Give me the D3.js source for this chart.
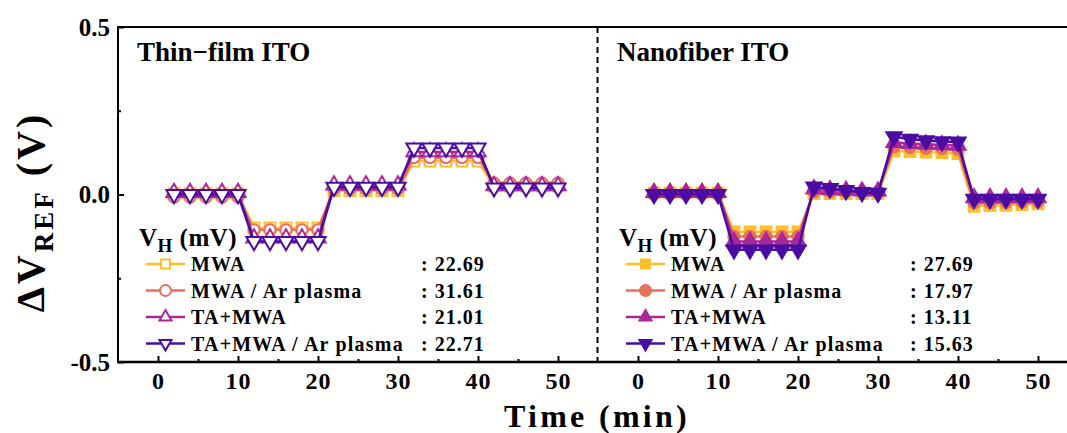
<!DOCTYPE html>
<html>
<head>
<meta charset="utf-8">
<script src="https://cdn.jsdelivr.net/npm/d3@7/dist/d3.min.js"></script>
<style>
  body { margin: 0; background: #fff; }
  svg { display: block; }
  text { font-family: "Liberation Serif", "Times New Roman", serif; font-weight: bold; fill: #000; }
</style>
</head>
<body>
<div id="page"></div>
<script>
(function() {

  "use strict";

  // time (min) of every point, both panels
  var times = [2, 4, 6, 8, 10, 12, 14, 16, 18, 20, 22, 24, 26, 28, 30, 32, 34, 36, 38, 40, 42, 44, 46, 48, 50];

  var seriesNames = [ "MWA", "MWA / Ar plasma", "TA+MWA", "TA+MWA / Ar plasma" ];

  // Thin-film ITO, dV_REF (V)
  var thinMWA   = [0.002, 0.002, 0.002, 0.002, 0.002, -0.100, -0.100, -0.100, -0.100, -0.100, 0.012, 0.012, 0.012, 0.012, 0.012, 0.100, 0.100, 0.100, 0.100, 0.100, 0.025, 0.025, 0.025, 0.025, 0.025];
  var thinMWAAr = [-0.008, -0.008, -0.008, -0.008, -0.008, -0.105, -0.105, -0.105, -0.105, -0.105, 0.016, 0.016, 0.016, 0.016, 0.016, 0.110, 0.110, 0.110, 0.110, 0.110, 0.035, 0.035, 0.035, 0.035, 0.035];
  var thinTA    = [0.006, 0.006, 0.006, 0.006, 0.006, -0.130, -0.130, -0.130, -0.130, -0.130, 0.028, 0.028, 0.028, 0.028, 0.028, 0.127, 0.127, 0.127, 0.127, 0.127, 0.026, 0.026, 0.026, 0.026, 0.026];
  var thinTAAr  = [0.000, 0.000, 0.000, 0.000, 0.000, -0.140, -0.140, -0.140, -0.140, -0.140, 0.022, 0.022, 0.022, 0.022, 0.022, 0.139, 0.139, 0.139, 0.139, 0.139, 0.020, 0.020, 0.020, 0.020, 0.020];

  // Nanofiber ITO, dV_REF (V)
  var nanoMWA   = [0.005, 0.005, 0.005, 0.005, 0.005, -0.112, -0.112, -0.112, -0.112, -0.112, 0.003, 0.003, 0.003, 0.003, 0.003, 0.130, 0.128, 0.127, 0.125, 0.122, -0.035, -0.033, -0.032, -0.030, -0.028];
  var nanoMWAAr = [0.001, 0.001, 0.001, 0.001, 0.001, -0.125, -0.125, -0.125, -0.125, -0.125, 0.008, 0.008, 0.008, 0.008, 0.008, 0.142, 0.140, 0.138, 0.137, 0.135, -0.025, -0.025, -0.024, -0.023, -0.022];
  var nanoTA    = [0.006, 0.006, 0.006, 0.006, 0.006, -0.140, -0.140, -0.140, -0.140, -0.140, 0.016, 0.014, 0.012, 0.010, 0.010, 0.155, 0.152, 0.150, 0.148, 0.147, -0.010, -0.010, -0.010, -0.010, -0.010];
  var nanoTAAr  = [0.000, 0.000, 0.000, 0.000, 0.000, -0.165, -0.165, -0.165, -0.165, -0.165, 0.023, 0.018, 0.012, 0.006, 0.004, 0.173, 0.165, 0.161, 0.158, 0.157, -0.014, -0.014, -0.014, -0.014, -0.014];

  // V_H (mV) shown in the legends
  var thinVH = [ "22.69", "31.61", "21.01", "22.71" ];
  var nanoVH = [ "27.69", "17.97", "13.11", "15.63" ];

  var xTicks = [0, 10, 20, 30, 40, 50],
    xMinor = [5, 15, 25, 35, 45],
    yTicks = [-0.5, 0.0, 0.5],
    yMinor = [-0.25, 0.25];

  /* * * * * * * * * * * * * * * * * * * */

  var colors = [ "#fcbf2a", "#e8705c", "#a8289a", "#4b0ca2" ],
    shapes = [ d3.symbolSquare, d3.symbolCircle, d3.symbolTriangle, d3.symbolTriangle ],
    rotate = [ 0, 0, 0, 180 ],
    plotSize = [ 118, 96, 100, 100 ],
    legendSize = [ 78, 96, 62, 62 ];

  var W = 1067, H = 433,
    top = 27, bottom = 362, left = 118, mid = 598;

  var panels = [
    { title: "Thin\u2212film ITO", x0: left, series: [ thinMWA, thinMWAAr, thinTA, thinTAAr ], vh: thinVH, filled: false, colonX: 421 },
    { title: "Nanofiber ITO", x0: mid, series: [ nanoMWA, nanoMWAAr, nanoTA, nanoTAAr ], vh: nanoVH, filled: true, colonX: 910 }
  ];

  var svg = d3.select( "#page" ).append( "svg" )
    .attr( "width", W )
    .attr( "height", H );

  var y = d3.scaleLinear().domain( [ -0.5, 0.5 ] ).range( [ bottom, top ] );

  /* * * * * * * * * * * * * * * * * * * */

  panels.forEach( function( p ) {

    var x = d3.scaleLinear().domain( [ -5, 55 ] ).range( [ p.x0, p.x0 + 480 ] );
    var g = svg.append( "g" );

    // x ticks (inward)
    g.append( "g" )
      .attr( "transform", "translate(0," + bottom + ")" )
      .call( d3.axisBottom( x ).tickValues( xTicks ).tickSize( -6 ).tickPadding( 10 ) )
      .call( function( a ) { a.select( ".domain" ).remove(); } )
      .call( function( a ) {
        a.selectAll( "line" ).attr( "stroke-width", 2 );
        a.selectAll( "text" ).attr( "font-size", 24 ).attr( "font-family", null ).attr( "letter-spacing", 1 );
      } );

    g.append( "g" )
      .attr( "transform", "translate(0," + bottom + ")" )
      .call( d3.axisBottom( x ).tickValues( xMinor ).tickSize( -3 ).tickFormat( "" ) )
      .call( function( a ) { a.select( ".domain" ).remove(); } )
      .selectAll( "line" ).attr( "stroke-width", 2 );

    // lines and markers
    var line = d3.line()
      .x( function( d, i ) { return x( times[ i ] ); } )
      .y( function( d ) { return y( d ); } );

    p.series.forEach( function( s, k ) {

      g.append( "path" )
        .datum( s )
        .attr( "d", line )
        .attr( "fill", "none" )
        .attr( "stroke", colors[ k ] )
        .attr( "stroke-width", 2.5 );

      g.selectAll( null )
        .data( s )
        .enter().append( "path" )
        .attr( "transform", function( d, i ) {
          return "translate(" + x( times[ i ] ) + "," + y( d ) + ") rotate(" + rotate[ k ] + ")";
        } )
        .attr( "d", d3.symbol().type( shapes[ k ] ).size( plotSize[ k ] ) )
        .attr( "fill", p.filled ? colors[ k ] : "#fff" )
        .attr( "stroke", colors[ k ] )
        .attr( "stroke-width", 2 );

    } );

    // title
    g.append( "text" )
      .attr( "x", p.x0 + 19 )
      .attr( "y", 61 )
      .attr( "font-size", 27 )
      .text( p.title );

    // legend
    var head = g.append( "text" )
      .attr( "x", p.x0 + 21 )
      .attr( "y", 246 )
      .attr( "font-size", 25 )
      .attr( "letter-spacing", 0.5 );
    head.append( "tspan" ).text( "V" );
    head.append( "tspan" ).attr( "font-size", 19 ).attr( "dy", 6 ).text( "H" );
    head.append( "tspan" ).attr( "dy", -6 ).text( " (mV)" );

    seriesNames.forEach( function( name, k ) {

      var cy = 264 + k * 26.5,
        lx = p.x0 + 28;

      g.append( "line" )
        .attr( "x1", lx ).attr( "x2", lx + 39 )
        .attr( "y1", cy ).attr( "y2", cy )
        .attr( "stroke", colors[ k ] )
        .attr( "stroke-width", 2.5 );

      g.append( "path" )
        .attr( "transform", "translate(" + ( lx + 19.5 ) + "," + cy + ") rotate(" + rotate[ k ] + ")" )
        .attr( "d", d3.symbol().type( shapes[ k ] ).size( legendSize[ k ] ) )
        .attr( "fill", p.filled ? colors[ k ] : "#fff" )
        .attr( "stroke", colors[ k ] )
        .attr( "stroke-width", 2 );

      g.append( "text" )
        .attr( "x", lx + 45 )
        .attr( "y", cy + 7 )
        .attr( "font-size", 20 )
        .attr( "letter-spacing", 1.2 )
        .text( name );

      g.append( "text" )
        .attr( "x", p.colonX )
        .attr( "y", cy + 7 )
        .attr( "font-size", 20 )
        .attr( "letter-spacing", 1 )
        .text( ":  " + p.vh[ k ] );

    } );

  } );

  /* * * * * * * * * * * * * * * * * * * */

  // y axis
  svg.append( "g" )
    .attr( "transform", "translate(" + left + ",0)" )
    .call( d3.axisLeft( y ).tickValues( yTicks ).tickSize( -6 ).tickPadding( 8 )
      .tickFormat( function( d ) { return d.toFixed( 1 ); } ) )
    .call( function( a ) { a.select( ".domain" ).remove(); } )
    .call( function( a ) {
      a.selectAll( "line" ).attr( "stroke-width", 2 );
      a.selectAll( "text" ).attr( "font-size", 25 ).attr( "font-family", null );
    } );

  svg.append( "g" )
    .attr( "transform", "translate(" + left + ",0)" )
    .call( d3.axisLeft( y ).tickValues( yMinor ).tickSize( -3 ).tickFormat( "" ) )
    .call( function( a ) { a.select( ".domain" ).remove(); } )
    .selectAll( "line" ).attr( "stroke-width", 2 );

  // frame
  var frame = svg.append( "g" ).attr( "stroke", "#000" ).attr( "stroke-width", 2 );
  frame.append( "line" ).attr( "x1", left ).attr( "x2", W ).attr( "y1", top ).attr( "y2", top );
  frame.append( "line" ).attr( "x1", left ).attr( "x2", W ).attr( "y1", bottom ).attr( "y2", bottom ).attr( "stroke-width", 2.5 );
  frame.append( "line" ).attr( "x1", left ).attr( "x2", left ).attr( "y1", top - 1 ).attr( "y2", bottom + 1 );
  frame.append( "line" ).attr( "x1", mid - 0.5 ).attr( "x2", mid - 0.5 ).attr( "y1", top ).attr( "y2", bottom )
    .attr( "stroke-dasharray", "6,4" );

  // axis titles
  svg.append( "text" )
    .attr( "x", 597 )
    .attr( "y", 427 )
    .attr( "text-anchor", "middle" )
    .attr( "font-size", 32 )
    .attr( "letter-spacing", 3.3 )
    .text( "Time (min)" );

  var ylab = svg.append( "text" )
    .attr( "transform", "translate(44,212) rotate(-90)" )
    .attr( "text-anchor", "middle" )
    .attr( "font-size", 40 )
    .attr( "letter-spacing", 3 );
  ylab.append( "tspan" ).text( "\u0394V" );
  ylab.append( "tspan" ).attr( "font-size", 27 ).attr( "dy", 9 ).text( "REF" );
  ylab.append( "tspan" ).attr( "dy", -9 ).text( " (V)" );

})();
</script>
</body>
</html>
